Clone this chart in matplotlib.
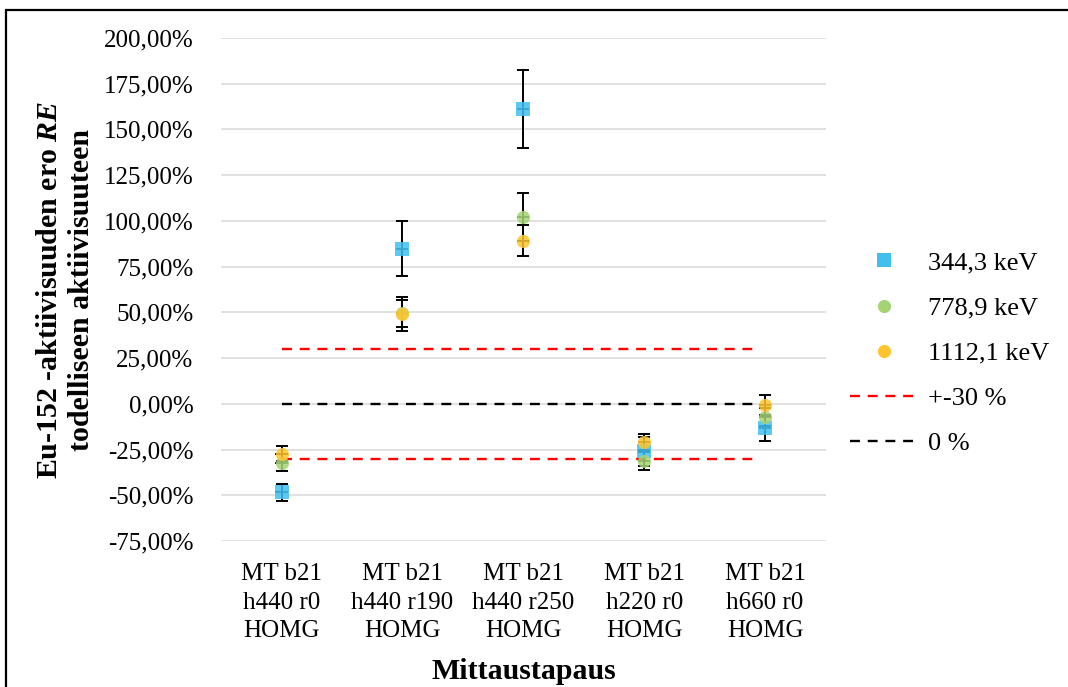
import matplotlib
matplotlib.use("Agg")
import matplotlib.pyplot as plt
from matplotlib.lines import Line2D
from matplotlib.patches import Rectangle
from matplotlib.ticker import FuncFormatter

plt.rcParams['font.family'] = ['Liberation Serif', 'DejaVu Serif']
plt.rcParams['mathtext.fontset'] = 'custom'
plt.rcParams['mathtext.it'] = 'Liberation Serif:bold:italic'
plt.rcParams['mathtext.rm'] = 'Liberation Serif:bold'

# data (RE in %)
categories = ["MT b21\nh440 r0\nHOMG", "MT b21\nh440 r190\nHOMG",
              "MT b21\nh440 r250\nHOMG", "MT b21\nh220 r0\nHOMG",
              "MT b21\nh660 r0\nHOMG"]
re_344 = [-48.4, 84.7, 161.2, -26.0, -13.3]
err_344 = [4.5, 15.0, 21.3, 8.0, 6.8]
re_779 = [-32.2, 49.5, 102.2, -31.3, -7.3]
err_779 = [4.6, 7.5, 13.0, 4.9, 5.0]
re_1112 = [-27.3, 49.1, 89.1, -21.0, -0.5]
err_1112 = [4.0, 9.5, 8.5, 4.5, 5.4]
labels = ["344,3 keV", "778,9 keV", "1112,1 keV", "+-30 %", "0 %"]

ref_x = [0, 3.93]
ref_plus = [30, 30]
ref_minus = [-30, -30]
ref_zero = [0, 0]

fs = 18

fig = plt.figure(figsize=(10.68, 6.87), dpi=100)
ax = fig.add_axes([0.207, 0.2125, 0.566, 0.7322])

x = list(range(len(categories)))

# reference lines
ax.plot(ref_x, ref_plus, color='#FF0000', lw=1.7, ls=(0, (4.2, 3.3)), zorder=2)
ax.plot(ref_x, ref_minus, color='#FF0000', lw=1.7, ls=(0, (4.2, 3.3)), zorder=2)
ax.plot(ref_x, ref_zero, color='black', lw=1.7, ls=(0, (4.2, 3.3)), zorder=2)

series = [
    (re_344, err_344, '#41C0F0', 's', 10.5),
    (re_779, err_779, '#A6D475', 'o', 9.5),
    (re_1112, err_1112, '#FFC52E', 'o', 9.5),
]
for vals, errs, col, mk, ms in series:
    ax.errorbar(x, vals, yerr=errs, fmt='none', ecolor='black',
                elinewidth=1.4, capsize=4.6, capthick=1.4, zorder=3)
    ax.errorbar(x, vals, xerr=0.05, fmt='none', ecolor='black',
                elinewidth=1.2, capsize=0, zorder=3)
for vals, errs, col, mk, ms in series:
    ax.plot(x, vals, ls='none', marker=mk, ms=ms, color=col,
            markeredgewidth=0, alpha=0.85, zorder=4)

ax.set_xlim(-0.5, len(categories) - 0.5)
ax.set_ylim(-75, 200)
ax.set_yticks(range(-75, 201, 25))
ax.yaxis.set_major_formatter(FuncFormatter(lambda v, p: f"{v:.2f}%".replace('.', ',')))
ax.set_xticks(x)
ax.set_xticklabels(categories, fontsize=fs, linespacing=1.37)
ax.tick_params(axis='y', labelsize=fs, length=0, pad=20)
ax.tick_params(axis='x', length=0, pad=16)
ax.grid(axis='y', color='#D9D9D9', lw=1.1)
ax.set_axisbelow(True)
for s in ax.spines.values():
    s.set_visible(False)

fig.text(0.061, 0.5785,
         "Eu-152 -aktiivisuuden ero $\\it{RE}$\ntodelliseen aktiivisuuteen",
         rotation=90, ha='center', va='center', fontsize=21.5,
         fontweight='bold', multialignment='center', linespacing=1.25)
fig.text(0.4906, 0.022, "Mittaustapaus", ha='center', va='center',
         fontsize=21.5, fontweight='bold')

handles = [
    Line2D([], [], ls='none', marker='s', ms=10.5, color='#41C0F0', markeredgewidth=0),
    Line2D([], [], ls='none', marker='o', ms=9.5, color='#A6D475', markeredgewidth=0),
    Line2D([], [], ls='none', marker='o', ms=9.5, color='#FFC52E', markeredgewidth=0),
    Line2D([], [], color='#FF0000', lw=1.7, ls=(0, (4.2, 3.3))),
    Line2D([], [], color='black', lw=1.7, ls=(0, (4.2, 3.3))),
]
fig.legend(handles, labels, loc='center left', bbox_to_anchor=(0.796, 0.486),
           frameon=False, fontsize=19, handlelength=2.55, handletextpad=0.4,
           labelspacing=0.82, borderpad=0, borderaxespad=0)

# outer chart border
fig.patches.append(Rectangle((6 / 1068, -0.05), 1.1, 1.05 - 10 / 687,
                             transform=fig.transFigure, fill=False,
                             edgecolor='black', lw=1.6))

fig.savefig("out.png", dpi=100)
